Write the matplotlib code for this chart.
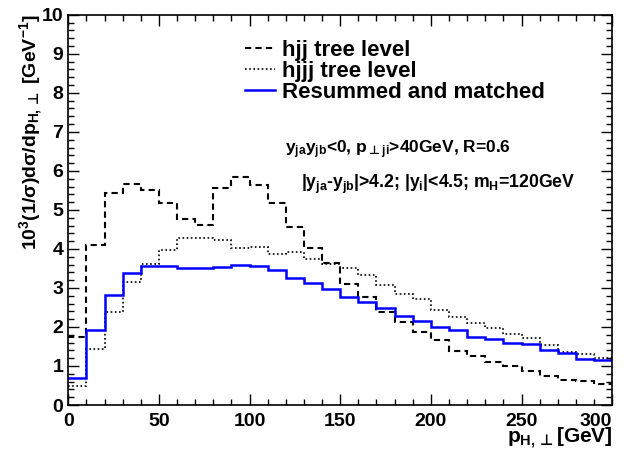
import numpy as np
import matplotlib
matplotlib.use("Agg")
import matplotlib.pyplot as plt
from matplotlib.ticker import MultipleLocator

plt.rcParams["font.family"] = ["Liberation Sans", "DejaVu Sans"]
plt.rcParams["font.weight"] = "bold"
plt.rcParams["axes.labelweight"] = "bold"
plt.rcParams["mathtext.fontset"] = "custom"
plt.rcParams["mathtext.rm"] = "Liberation Sans:bold"
plt.rcParams["mathtext.it"] = "Liberation Sans:bold"
plt.rcParams["mathtext.bf"] = "Liberation Sans:bold"
plt.rcParams["mathtext.sf"] = "DejaVu Sans:bold"
plt.rcParams["mathtext.fallback"] = "stixsans"

# p_T bin edges, 10 GeV wide
edges = np.arange(0, 310, 10)

hjj_tree = [1.74, 4.09, 5.43, 5.67, 5.50, 5.19, 4.77, 4.61, 5.56, 5.85,
            5.64, 5.19, 4.56, 4.03, 3.63, 3.10, 2.78, 2.38, 2.14, 1.86,
            1.67, 1.38, 1.26, 1.09, 1.01, 0.88, 0.74, 0.64, 0.62, 0.54]
hjjj_tree = [0.49, 1.43, 2.38, 3.14, 3.62, 3.97, 4.27, 4.27, 4.23, 4.03,
             4.06, 3.86, 3.93, 3.73, 3.62, 3.50, 3.33, 3.08, 2.85, 2.71,
             2.44, 2.26, 2.11, 1.97, 1.81, 1.71, 1.54, 1.37, 1.32, 1.20]
resummed = [0.68, 1.91, 2.82, 3.38, 3.56, 3.56, 3.52, 3.51, 3.53, 3.59,
            3.57, 3.46, 3.25, 3.12, 2.97, 2.78, 2.63, 2.48, 2.28, 2.16,
            2.01, 1.91, 1.75, 1.69, 1.58, 1.56, 1.41, 1.34, 1.18, 1.15]
xticks = [0, 50, 100, 150, 200, 250, 300]

fig = plt.figure(figsize=(6.26, 4.5), dpi=100)
ax = fig.add_axes([0.109, 0.1, 0.869, 0.867])

ax.stairs(hjj_tree, edges, baseline=None, color="black", lw=1.5,
          linestyle=(0, (3, 2)), label="hjj tree level")
ax.stairs(hjjj_tree, edges, baseline=None, color="black", lw=1.2,
          linestyle=(0, (1, 1.5)), label="hjjj tree level")
ax.stairs(resummed, edges, baseline=None, color="#0000ff", lw=1.8,
          label="Resummed and matched")

ax.set_xticks(xticks)
ax.xaxis.set_minor_locator(MultipleLocator(10))
ax.yaxis.set_major_locator(MultipleLocator(1))
ax.yaxis.set_minor_locator(MultipleLocator(0.2))
ax.set_xlim(0, 300)
ax.set_ylim(0, 10)
ax.tick_params(which="both", direction="in", top=True, right=True,
               labelsize=14, width=1)
ax.tick_params(which="major", length=8)
ax.tick_params(which="minor", length=4)
ax.tick_params(axis="x", pad=6)
for s in ax.spines.values():
    s.set_linewidth(1.2)

# keep the last x label inside the canvas, like ROOT does
ax.get_xticklabels()[-1].set_horizontalalignment("right")

perp = r"\mathsf{\bot}"
ax.set_ylabel(r"$10^{3}(1/\sigma)d\sigma/dp_{H," + perp + r"}$ [GeV$^{-1}$]",
              fontsize=14, loc="top")
ax.yaxis.set_label_coords(-0.043, 1.0)
ax.set_xlabel(r"$p_{H," + perp + r"}$[GeV]", fontsize=15, loc="right")
ax.xaxis.set_label_coords(1.0, -0.053)

ax.legend(loc="upper left", bbox_to_anchor=(0.325, 0.935), frameon=False,
          fontsize=16, handlelength=1.35, handletextpad=0.3,
          labelspacing=0.0, borderpad=0, borderaxespad=0)

ax.text(0.399, 0.646, r"$y_{ja}y_{jb}$<0, $p_{" + perp + r" ji}$>40GeV, R=0.6",
        transform=ax.transAxes, fontsize=12.5, va="baseline")
ax.text(0.428, 0.556, r"|$y_{ja}$-$y_{jb}$|>4.2; |$y_{i}$|<4.5; $m_{H}$=120GeV",
        transform=ax.transAxes, fontsize=12.7, va="baseline")

fig.savefig("out.png", dpi=100)
